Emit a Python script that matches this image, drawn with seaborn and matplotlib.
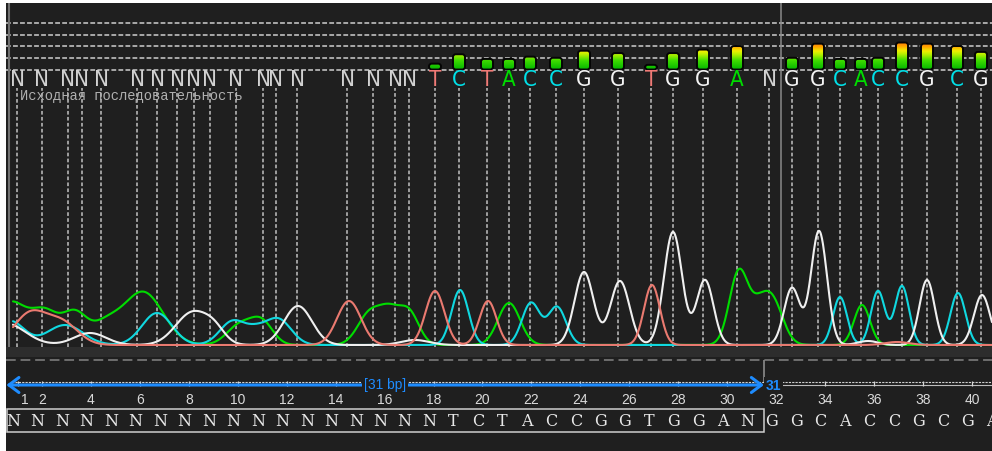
import numpy as np
import pandas as pd
import matplotlib
matplotlib.use("Agg")
import matplotlib.pyplot as plt
import seaborn as sns
from matplotlib import font_manager
from matplotlib.patches import FancyBboxPatch, Rectangle
from matplotlib.colors import LinearSegmentedColormap

sns.set_theme(style="dark")
plt.rcParams["font.family"] = ["DejaVu Sans"]

# ---------------- data ----------------
# base calls shown in the top strip, their trace positions and quality values
called_bases = list("NNNNNNNNNNNNNNNNNNTCTACCGGTGGANGGCACCGCG")
call_scans = [7, 32, 58, 72, 91, 127, 147, 167, 184, 200, 226, 253, 266, 287,
              337, 363, 385, 399, 425, 449, 477, 499, 520, 546, 574, 608, 641,
              663, 693, 727, 759, 782, 808, 830, 851, 868, 892, 917, 947, 971]
call_quality = [0, 0, 0, 0, 0, 0, 0, 0, 0, 0, 0, 0, 0, 0, 0, 0, 0, 0,
                5, 13, 9, 9, 11, 10, 16, 14, 4, 14, 17, 20, 0,
                10, 22, 9, 9, 10, 23, 22, 20, 15]

# reference sequence shown under the ruler
reference_seq = list("NNNNNNNNNNNNNNNNNNTCTACCGGTGGANGGCACCGCGA")
ruler_ticks = [1, 2, 4, 6, 8, 10, 12, 14, 16, 18, 20, 22, 24, 26, 28, 30,
               32, 34, 36, 38, 40]
selection_end = 31  # length of the selected region, bp

# chromatogram peaks per channel: centre (scan), height, width (sigma)
A_pos = [0, 35, 65, 95, 133, 230, 252, 360, 380, 399, 499, 729, 747, 761, 852]
A_height = [42, 32, 30, 18, 53, 20, 22, 32, 28, 32, 42, 74, 18, 48, 40]
A_width = [16, 14, 12, 14, 20, 13, 11, 12, 10, 10, 11, 9.5, 8, 11, 8]

C_pos = [0, 55, 147, 223, 246, 268, 450, 521, 547, 830, 868, 892, 948]
C_height = [24, 20, 32, 24, 10, 26, 55, 42, 38, 48, 54, 59, 52]
C_width = [14, 18, 15, 13, 10, 13, 8.5, 9, 9, 7, 7, 7, 7.5]

G_pos = [-5, 80, 183, 205, 288, 405, 574, 610, 663, 695, 782, 809, 858, 917, 972]
G_height = [22, 12, 33, 10, 39, 5, 73, 64, 113, 65, 57, 114, 4, 65, 50]
G_width = [20, 16, 17, 10, 14, 14, 9.5, 9.5, 9, 8.5, 8, 8, 10, 7.5, 8]

T_pos = [20, 52, 339, 425, 478, 642, 887]
T_height = [31, 22, 44, 54, 44, 60, 3]
T_width = [16, 16, 12, 9.5, 8.5, 8, 12]

# ---------------- styling ----------------
BG = "#1f1f1f"
trace_colors = {"A": "#00dc00", "C": "#10d8e0", "G": "#f0f0f0", "T": "#ea7a70"}
call_colors = {"A": "#00dd00", "C": "#00e0e8", "G": "#f4f4f4", "T": "#f07a76",
               "N": "#d2d2d2"}
BLUE = "#1e8cff"
qual_cmap = LinearSegmentedColormap.from_list(
    "qv", [(0.0, "#00b400"), (0.32, "#3fdc00"), (0.52, "#b4f000"),
           (0.64, "#f0f000"), (0.80, "#ffa000"), (1.0, "#ff6400")])


def condensed_font():
    """Pick a narrow sans face for the base-call letters."""
    entries = font_manager.fontManager.ttflist

    def regular(f):
        return (f.style == "normal"
                and str(f.weight) in ("400", "normal", "regular", "book"))

    for f in entries:
        if f.name == "DejaVu Sans" and "Condensed" in f.fname and regular(f):
            return font_manager.FontProperties(fname=f.fname)
    for want in ("Roboto Condensed", "Open Sans Condensed", "Noto Sans Condensed",
                 "Liberation Sans Narrow", "Asap Condensed",
                 "Barlow Semi Condensed", "Cabin Condensed"):
        for f in entries:
            if f.name == want and regular(f) and "wght" not in f.fname:
                return font_manager.FontProperties(fname=f.fname)
    return font_manager.FontProperties(family="DejaVu Sans")


call_font = condensed_font()
call_font.set_size(16)

# ---------------- figure layout ----------------
W, H = 992, 452
fig = plt.figure(figsize=(W / 100, H / 100), dpi=100, facecolor="white")
fig.add_artist(Rectangle((6 / W, 0), (W - 6) / W, (H - 4) / H,
                         transform=fig.transFigure, facecolor=BG,
                         edgecolor="none", zorder=-5))


def px_axes(x0, y0, x1, y1):
    ax = fig.add_axes([x0 / W, 1 - y1 / H, (x1 - x0) / W, (y1 - y0) / H])
    ax.set_axis_off()
    return ax


ax_q = px_axes(6, 4, 992, 89)      # quality bars + base calls
ax_c = px_axes(6, 89, 992, 348)    # chromatogram traces
ax_r = px_axes(6, 348, 992, 452)   # ruler + reference sequence

SCAN_LIM = (-4, 982)
Q_LIM = (-15.32, 57.02)
C_LIM = (-2, 257)

# ---------------- quality strip ----------------
ax_q.hlines([0, 10, 20, 30, 40], *SCAN_LIM, colors="#c8c8c8",
            linestyles=(0, (3, 1.4)), lw=1.15, zorder=1)

bar_w = 12
for s, q in zip(call_scans, call_quality):
    if q <= 0:
        continue
    x0 = s - bar_w / 2
    box = FancyBboxPatch((x0, 0.4), bar_w, q,
                         boxstyle="round,pad=0,rounding_size=2.8",
                         mutation_aspect=0.851, facecolor="none",
                         edgecolor="#050505", lw=1.4, zorder=4)
    ax_q.add_patch(box)
    grad = np.linspace(0, q, 64).reshape(-1, 1)
    im = ax_q.imshow(grad, extent=[x0, x0 + bar_w, 0.4, 0.4 + q],
                     origin="lower", cmap=qual_cmap, vmin=0, vmax=25,
                     aspect="auto", zorder=3, interpolation="bilinear")
    im.set_clip_path(box)

for s, b in zip(call_scans, called_bases):
    ax_q.text(s, -7.4, b, ha="center", va="center",
              color=call_colors[b], fontproperties=call_font, zorder=5)

ax_q.set_xlim(*SCAN_LIM)
ax_q.set_ylim(*Q_LIM)

# ---------------- chromatogram ----------------
scan = np.arange(3, 982.5, 0.5)
channels = {"A": (A_pos, A_height, A_width), "C": (C_pos, C_height, C_width),
            "G": (G_pos, G_height, G_width), "T": (T_pos, T_height, T_width)}
frames = []
for base, (pos, hgt, wid) in channels.items():
    sig = np.zeros_like(scan)
    for c, h, w in zip(pos, hgt, wid):
        sig += h * np.exp(-0.5 * ((scan - c) / w) ** 2)
    frames.append(pd.DataFrame({"scan": scan, "signal": sig, "base": base}))
traces = pd.concat(frames, ignore_index=True)

ax_c.vlines(call_scans, *C_LIM, colors="#c2c2c2", linestyles=(0, (2.4, 1.5)),
            lw=1.1, zorder=1)
sns.lineplot(data=traces, x="scan", y="signal", hue="base",
             hue_order=["A", "C", "G", "T"], palette=trace_colors,
             estimator=None, sort=False, legend=False, lw=1.5, ax=ax_c,
             zorder=3)
ax_c.set_axis_off()
ax_c.text(10, 250, "Исходная последовательность", ha="left", va="center",
          fontsize=9.9, color="#b0b0b0",
          family=["Liberation Mono", "DejaVu Sans Mono"], zorder=4)
ax_c.set_xlim(*SCAN_LIM)
ax_c.set_ylim(*C_LIM)

# frame lines: left edge and end of the selected region
split = (call_scans[selection_end - 1] + call_scans[selection_end]) / 2
for ax in (ax_q, ax_c):
    ax.axvline(-1.3, color="#717171", lw=1.5, zorder=2)
    ax.axvline(split, color="#8a8a8a", lw=1.1, zorder=2)

# ---------------- ruler and reference sequence ----------------
ax_r.set_xlim(0.530, 40.82)
ax_r.set_ylim(104, 0)
ax_r.axhspan(0, 10, color="#2d2d2d", lw=0, zorder=1)
ax_r.hlines(13, 0.53, 40.82, colors="#6e6e6e", linestyles=(0, (5, 2.5)),
            lw=1.4, zorder=2)

sel_right = selection_end + 0.5
ax_r.vlines(sel_right, 13, 35, colors="#8c8c8c", lw=1.2, zorder=2)
ax_r.hlines(35, ruler_ticks[0] - 0.1, 40.82, colors="#d0d0d0",
            linestyles=(0, (2, 1)), lw=0.8, zorder=2)
ax_r.hlines(38, sel_right, 40.82, colors="#bdbdbd", lw=0.8, zorder=2)
ax_r.vlines(ruler_ticks, 34, 39, colors="#d6d6d6", lw=0.9, zorder=2)
for t in ruler_ticks:
    x = t + 0.3 if t == 1 else t
    ax_r.text(x, 52, str(t), ha="center", va="center", fontsize=10,
              color="#dadada", family=["Liberation Sans", "DejaVu Sans"])

ax_r.annotate("", xy=(0.545, 38), xytext=(sel_right, 38),
              arrowprops=dict(arrowstyle="<->,head_length=0.6,head_width=0.45",
                              color=BLUE, lw=2.2, shrinkA=0, shrinkB=0,
                              mutation_scale=12), zorder=4)
ax_r.text((0.53 + sel_right) / 2, 37.5, f"[{selection_end} bp]", ha="center",
          va="center", fontsize=10, color=BLUE,
          family=["Liberation Sans", "DejaVu Sans"], zorder=5,
          bbox=dict(boxstyle="square,pad=0.15", fc=BG, ec="none"))
ax_r.text(sel_right + 0.08, 38.5, str(selection_end), ha="left", va="center",
          fontsize=10, color=BLUE, weight="bold",
          family=["Liberation Sans", "DejaVu Sans"], zorder=5,
          bbox=dict(boxstyle="square,pad=0.1", fc=BG, ec="none"))

ax_r.add_patch(Rectangle((0.56, 62), sel_right - 0.56, 23, facecolor="none",
                         edgecolor="#cfcfcf", lw=1.1, zorder=3))
for i, b in enumerate(reference_seq, start=1):
    ax_r.text(i - 0.18, 73.5, b, ha="center", va="center", fontsize=11.5,
              color="#e8e8e8", family=["DejaVu Serif"], zorder=4)

fig.savefig("out.png", dpi=100, facecolor=fig.get_facecolor())
